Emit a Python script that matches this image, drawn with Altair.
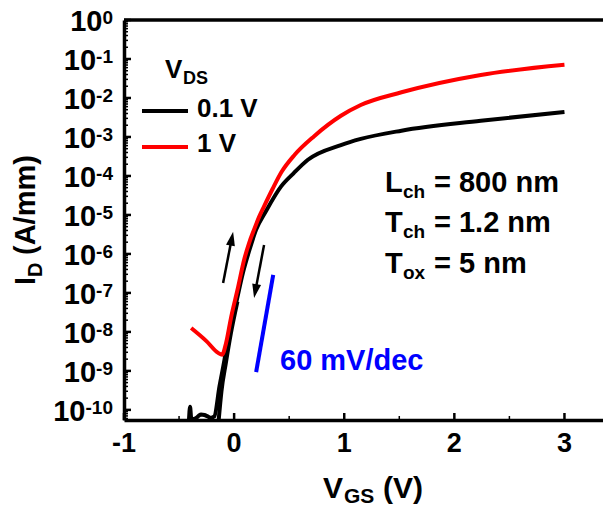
import altair as alt
import pandas as pd

FONT = "Liberation Sans"

# ---------------- data ----------------
vgs_black = [-0.41, -0.40, -0.39, -0.37, -0.34, -0.32, -0.30, -0.27, -0.24, -0.21, -0.18,
             -0.133, -0.088, -0.043, 0.018, 0.079, 0.139, 0.20, 0.29, 0.427, 0.54, 0.67, 0.97,
             1.15, 1.52, 2.24, 3.0]
id_black = [5.5e-11, 1.2e-10, 6.3e-11, 5.8e-11, 6.3e-11, 7.1e-11, 7.6e-11, 7.4e-11, 6.8e-11,
            6.3e-11, 6.8e-11, 4.0e-10, 1.9e-9, 1.1e-8, 5.5e-8, 3.2e-7, 1.26e-6, 4.2e-6,
            1.26e-5, 5.4e-5, 1.17e-4, 2.6e-4, 6.2e-4, 8.9e-4, 1.45e-3, 2.6e-3, 4.4e-3]
vgs_black_rev = [-0.14, -0.115, -0.075, -0.03, 0.03]
id_black_rev = [5.5e-11, 3.0e-10, 1.6e-9, 9.0e-9, 6.0e-8]
vgs_red = [-0.39, -0.254, -0.145, -0.109, -0.073, -0.027, 0.036, 0.091, 0.136, 0.181,
           0.227, 0.272, 0.35, 0.43, 0.55, 0.727, 0.97, 1.15, 1.52, 2.24, 3.0]
id_red = [1.26e-8, 5.9e-9, 2.9e-9, 2.6e-9, 5.2e-9, 2.4e-8, 1.4e-7, 7.1e-7, 1.9e-6, 4.2e-6,
          8.9e-6, 1.66e-5, 4.7e-5, 1.26e-4, 3.5e-4, 1.05e-3, 3.5e-3, 6.6e-3, 1.4e-2, 3.9e-2, 7.1e-2]
series_names = ["0.1 V", "1 V"]
series_colors = ["#000000", "#ff0000"]

slope_vgs = [0.20, 0.355]
slope_id = [9.3e-10, 2.9e-7]

arrow_up_vgs = [-0.10, -0.02]
arrow_up_id = [1.8e-7, 2.6e-6]
arrow_up_tip = (-0.009, 3.7e-6)
arrow_dn_vgs = [0.272, 0.191]
arrow_dn_id = [1.7e-6, 1.05e-7]
arrow_dn_tip = (0.181, 7.4e-8)

x_major = [-1, 0, 1, 2, 3]
x_minor = [-0.5, 0.5, 1.5, 2.5]
x_labels = ["-1", "0", "1", "2", "3"]
y_exponents = [0, -1, -2, -3, -4, -5, -6, -7, -8, -9, -10]

X_DOMAIN = [-1, 3.35]
Y_DOMAIN = [5.5e-11, 1]
W, H = 479, 400

# ---------------- helpers ----------------
def X(field="vgs"):
    return alt.X(f"{field}:Q",
                 scale=alt.Scale(domain=X_DOMAIN, nice=False, zero=False),
                 axis=alt.Axis(title=None, labels=False, ticks=False, grid=False,
                               domainColor="black", domainWidth=3.5))

def Y(field="id"):
    return alt.Y(f"{field}:Q",
                 scale=alt.Scale(type="log", domain=Y_DOMAIN, nice=False),
                 axis=alt.Axis(title=None, labels=False, ticks=False, grid=False,
                               domainColor="black", domainWidth=3.5))

def txt(s, x, y, size, color="black", angle=0, align="left"):
    return alt.Chart(pd.DataFrame({"t": [s]})).mark_text(
        align=align, baseline="alphabetic", font=FONT, fontWeight="bold",
        fontSize=size, color=color, angle=angle
    ).encode(x=alt.value(x), y=alt.value(y), text="t:N")

# ---------------- curves ----------------
rows = []
for v, i in zip(vgs_black, id_black):
    rows.append({"vgs": v, "id": i, "series": series_names[0], "part": "a"})
for v, i in zip(vgs_black_rev, id_black_rev):
    rows.append({"vgs": v, "id": i, "series": series_names[0], "part": "b"})
for v, i in zip(vgs_red, id_red):
    rows.append({"vgs": v, "id": i, "series": series_names[1], "part": "c"})
curves_df = pd.DataFrame(rows)

curves = alt.Chart(curves_df).mark_line(strokeWidth=4, interpolate="monotone", clip=True).encode(
    x=X(), y=Y(),
    color=alt.Color("series:N", scale=alt.Scale(domain=series_names, range=series_colors), legend=None),
    detail="part:N",
    order=alt.Order("vgs:Q"),
)

slope = alt.Chart(pd.DataFrame({"vgs": slope_vgs, "id": slope_id})).mark_line(
    color="#0000ff", strokeWidth=4).encode(x=X(), y=Y())

arrow_shafts = alt.Chart(pd.DataFrame({
    "vgs": arrow_up_vgs + arrow_dn_vgs,
    "id": arrow_up_id + arrow_dn_id,
    "a": ["up", "up", "dn", "dn"],
})).mark_line(color="black", strokeWidth=2.5).encode(x=X(), y=Y(), detail="a:N")

HEAD = "M0,0L0.9,2.8L-0.9,2.8Z"
head_up = alt.Chart(pd.DataFrame({"vgs": [arrow_up_tip[0]], "id": [arrow_up_tip[1]]})).mark_point(
    shape=HEAD, size=100, filled=True, color="black", opacity=1, angle=11).encode(x=X(), y=Y())
head_dn = alt.Chart(pd.DataFrame({"vgs": [arrow_dn_tip[0]], "id": [arrow_dn_tip[1]]})).mark_point(
    shape=HEAD, size=100, filled=True, color="black", opacity=1, angle=190.7).encode(x=X(), y=Y())

# ---------------- ticks (inward) ----------------
y_major_vals = [10.0 ** e for e in y_exponents]
y_minor_vals = [k * 10.0 ** e for e in range(-11, 0) for k in range(2, 10)
                if Y_DOMAIN[0] <= k * 10.0 ** e <= Y_DOMAIN[1]]

ymaj = alt.Chart(pd.DataFrame({"id": y_major_vals})).mark_rule(color="black", strokeWidth=2.5).encode(
    y=Y(), x=alt.value(0), x2=alt.value(7))
ymin = alt.Chart(pd.DataFrame({"id": y_minor_vals})).mark_rule(color="black", strokeWidth=1.5).encode(
    y=Y(), x=alt.value(0), x2=alt.value(4))
xmaj = alt.Chart(pd.DataFrame({"vgs": x_major})).mark_rule(color="black", strokeWidth=2.5).encode(
    x=X(), y=alt.value(H), y2=alt.value(H - 7))
xmin = alt.Chart(pd.DataFrame({"vgs": x_minor})).mark_rule(color="black", strokeWidth=1.5).encode(
    x=X(), y=alt.value(H), y2=alt.value(H - 4))

top_border = alt.Chart(pd.DataFrame({"t": [0]})).mark_rule(color="black", strokeWidth=3.5).encode(
    x=alt.value(0), x2=alt.value(W), y=alt.value(0))

# ---------------- tick labels ----------------
xlab = alt.Chart(pd.DataFrame({"vgs": x_major, "lab": x_labels})).mark_text(
    align="center", baseline="alphabetic", font=FONT, fontWeight="bold", fontSize=27, color="black"
).encode(x=X(), y=alt.value(H + 32), text="lab:N")

ylab_df = pd.DataFrame({
    "id": y_major_vals,
    "base": ["10"] * len(y_exponents),
    "exp": [str(e) for e in y_exponents],
    "n": [len(str(e)) for e in y_exponents],
})
EXP_RIGHT = -11
exp_widths = {1: 10.6, 2: 16.9, 3: 27.5}
ylab_layers = []
for n, w in exp_widths.items():
    ylab_layers.append(
        alt.Chart(ylab_df).transform_filter(alt.datum.n == n).mark_text(
            align="right", baseline="alphabetic", font=FONT, fontWeight="bold", fontSize=29, color="black", dy=11
        ).encode(y=Y(), x=alt.value(EXP_RIGHT - w), text="base:N")
    )
ylab_layers.append(
    alt.Chart(ylab_df).mark_text(
        align="right", baseline="alphabetic", font=FONT, fontWeight="bold", fontSize=19, color="black", dy=4
    ).encode(y=Y(), x=alt.value(EXP_RIGHT), text="exp:N")
)

# ---------------- axis titles ----------------
titles = [
    txt("V", 199, H + 78, 30),
    txt("GS", 220, H + 83, 21),
    txt("(V)", 259, H + 78, 30),
    txt("I", -89, 265, 29, angle=270),
    txt("D", -82, 257, 20, angle=270),
    txt("(A/mm)", -89, 235, 29, angle=270),
]

# ---------------- legend ----------------
legend_lines = alt.Chart(pd.DataFrame({
    "series": series_names, "ly": [91, 127]})).mark_rule(strokeWidth=4).encode(
    x=alt.value(18), x2=alt.value(64), y=alt.Y("ly:Q", scale=None),
    color=alt.Color("series:N", scale=alt.Scale(domain=series_names, range=series_colors), legend=None))
legend_text = [
    txt("V", 41, 58, 26),
    txt("DS", 59, 64, 18),
    txt("0.1 V", 73, 97, 26),
    txt("1 V", 73, 132, 26),
]

# ---------------- annotations ----------------
ann = [
    txt("L", 261, 172, 29), txt("ch", 279, 178, 19), txt("= 800 nm", 310, 172, 29),
    txt("T", 261, 212, 29), txt("ch", 279, 218, 19), txt("= 1.2 nm", 310, 212, 29),
    txt("T", 261, 253, 29), txt("ox", 279, 259, 19), txt("= 5 nm", 310, 253, 29),
    txt("60 mV/dec", 156, 350, 29, color="#0000ff"),
]

chart = alt.layer(
    curves, slope, arrow_shafts, head_up, head_dn,
    ymaj, ymin, xmaj, xmin, top_border, xlab, *ylab_layers,
    *titles, legend_lines, *legend_text, *ann
).properties(
    width=W, height=H,
    autosize=alt.AutoSizeParams(type="none"),
    padding={"left": 116, "top": 12, "right": 0, "bottom": 86},
).configure_view(stroke=None).configure(background="white")

chart.save("out.html", embed_options={"renderer": "svg", "actions": False})
